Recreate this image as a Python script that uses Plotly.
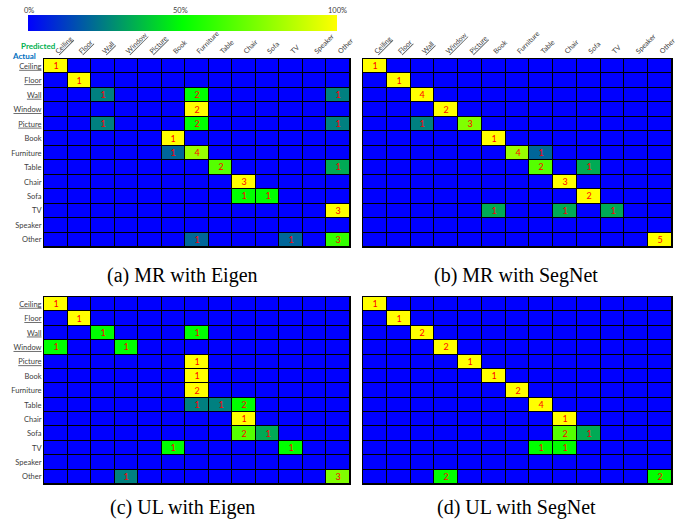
import plotly.graph_objects as go

W, H = 677, 520

classes = ["Ceiling", "Floor", "Wall", "Window", "Picture", "Book", "Furniture",
           "Table", "Chair", "Sofa", "TV", "Speaker", "Other"]
underlined = ["Ceiling", "Floor", "Wall", "Window", "Picture"]
tick_labels = [f"<u>{c}</u>" if c in underlined else c for c in classes]

# Confusion matrices: rows = actual, columns = predicted (counts)
mr_eigen = [
    [1, 0, 0, 0, 0, 0, 0, 0, 0, 0, 0, 0, 0],
    [0, 1, 0, 0, 0, 0, 0, 0, 0, 0, 0, 0, 0],
    [0, 0, 1, 0, 0, 0, 2, 0, 0, 0, 0, 0, 1],
    [0, 0, 0, 0, 0, 0, 2, 0, 0, 0, 0, 0, 0],
    [0, 0, 1, 0, 0, 0, 2, 0, 0, 0, 0, 0, 1],
    [0, 0, 0, 0, 0, 1, 0, 0, 0, 0, 0, 0, 0],
    [0, 0, 0, 0, 0, 1, 4, 0, 0, 0, 0, 0, 0],
    [0, 0, 0, 0, 0, 0, 0, 2, 0, 0, 0, 0, 1],
    [0, 0, 0, 0, 0, 0, 0, 0, 3, 0, 0, 0, 0],
    [0, 0, 0, 0, 0, 0, 0, 0, 1, 1, 0, 0, 0],
    [0, 0, 0, 0, 0, 0, 0, 0, 0, 0, 0, 0, 3],
    [0, 0, 0, 0, 0, 0, 0, 0, 0, 0, 0, 0, 0],
    [0, 0, 0, 0, 0, 0, 1, 0, 0, 0, 1, 0, 3],
]
mr_segnet = [
    [1, 0, 0, 0, 0, 0, 0, 0, 0, 0, 0, 0, 0],
    [0, 1, 0, 0, 0, 0, 0, 0, 0, 0, 0, 0, 0],
    [0, 0, 4, 0, 0, 0, 0, 0, 0, 0, 0, 0, 0],
    [0, 0, 0, 2, 0, 0, 0, 0, 0, 0, 0, 0, 0],
    [0, 0, 1, 0, 3, 0, 0, 0, 0, 0, 0, 0, 0],
    [0, 0, 0, 0, 0, 1, 0, 0, 0, 0, 0, 0, 0],
    [0, 0, 0, 0, 0, 0, 4, 1, 0, 0, 0, 0, 0],
    [0, 0, 0, 0, 0, 0, 0, 2, 0, 1, 0, 0, 0],
    [0, 0, 0, 0, 0, 0, 0, 0, 3, 0, 0, 0, 0],
    [0, 0, 0, 0, 0, 0, 0, 0, 0, 2, 0, 0, 0],
    [0, 0, 0, 0, 0, 1, 0, 0, 1, 0, 1, 0, 0],
    [0, 0, 0, 0, 0, 0, 0, 0, 0, 0, 0, 0, 0],
    [0, 0, 0, 0, 0, 0, 0, 0, 0, 0, 0, 0, 5],
]
ul_eigen = [
    [1, 0, 0, 0, 0, 0, 0, 0, 0, 0, 0, 0, 0],
    [0, 1, 0, 0, 0, 0, 0, 0, 0, 0, 0, 0, 0],
    [0, 0, 1, 0, 0, 0, 1, 0, 0, 0, 0, 0, 0],
    [1, 0, 0, 1, 0, 0, 0, 0, 0, 0, 0, 0, 0],
    [0, 0, 0, 0, 0, 0, 1, 0, 0, 0, 0, 0, 0],
    [0, 0, 0, 0, 0, 0, 1, 0, 0, 0, 0, 0, 0],
    [0, 0, 0, 0, 0, 0, 2, 0, 0, 0, 0, 0, 0],
    [0, 0, 0, 0, 0, 0, 1, 1, 2, 0, 0, 0, 0],
    [0, 0, 0, 0, 0, 0, 0, 0, 1, 0, 0, 0, 0],
    [0, 0, 0, 0, 0, 0, 0, 0, 2, 1, 0, 0, 0],
    [0, 0, 0, 0, 0, 1, 0, 0, 0, 0, 1, 0, 0],
    [0, 0, 0, 0, 0, 0, 0, 0, 0, 0, 0, 0, 0],
    [0, 0, 0, 1, 0, 0, 0, 0, 0, 0, 0, 0, 3],
]
ul_segnet = [
    [1, 0, 0, 0, 0, 0, 0, 0, 0, 0, 0, 0, 0],
    [0, 1, 0, 0, 0, 0, 0, 0, 0, 0, 0, 0, 0],
    [0, 0, 2, 0, 0, 0, 0, 0, 0, 0, 0, 0, 0],
    [0, 0, 0, 2, 0, 0, 0, 0, 0, 0, 0, 0, 0],
    [0, 0, 0, 0, 1, 0, 0, 0, 0, 0, 0, 0, 0],
    [0, 0, 0, 0, 0, 1, 0, 0, 0, 0, 0, 0, 0],
    [0, 0, 0, 0, 0, 0, 2, 0, 0, 0, 0, 0, 0],
    [0, 0, 0, 0, 0, 0, 0, 4, 0, 0, 0, 0, 0],
    [0, 0, 0, 0, 0, 0, 0, 0, 1, 0, 0, 0, 0],
    [0, 0, 0, 0, 0, 0, 0, 0, 2, 1, 0, 0, 0],
    [0, 0, 0, 0, 0, 0, 0, 1, 1, 0, 0, 0, 0],
    [0, 0, 0, 0, 0, 0, 0, 0, 0, 0, 0, 0, 0],
    [0, 0, 0, 2, 0, 0, 0, 0, 0, 0, 0, 0, 2],
]

captions = ["(a) MR with Eigen", "(b) MR with SegNet",
            "(c) UL with Eigen", "(d) UL with SegNet"]
matrices = [mr_eigen, mr_segnet, ul_eigen, ul_segnet]

colorscale = [[0.0, "#0000FF"], [0.5, "#00FF00"], [1.0, "#FFFF00"]]


def px_x(p):
    return p / W


def px_y(p):
    return 1 - p / H


# panel pixel boxes: (left, right, top, bottom)
boxes = [(44, 350, 59, 247), (363, 672, 59, 247),
         (44, 350, 297, 484), (363, 672, 297, 484)]
caption_pos = [(182, 275), (516, 275), (182, 507), (516, 507)]

fig = go.Figure()
layout = {}
idx = list(range(len(classes)))
for k, (mat, box) in enumerate(zip(matrices, boxes)):
    pct = []
    txt = []
    for row in mat:
        s = sum(row)
        pct.append([(v / s * 100 if s else 0) for v in row])
        txt.append([str(v) if v else "" for v in row])
    ax = "" if k == 0 else str(k + 1)
    tr = go.Heatmap(
        z=pct, x=idx, y=idx, text=txt, texttemplate="%{text}",
        textfont=dict(color="#FF0000", size=9, family="Lato"),
        colorscale=colorscale, zmin=0, zmax=100, xgap=1, ygap=1,
        xaxis="x" + ax, yaxis="y" + ax, hoverinfo="skip",
        showscale=(k == 0),
    )
    if k == 0:
        tr.colorbar = dict(orientation="h", x=px_x(28), xanchor="left",
                           y=px_y(15), yanchor="top", len=309 / W,
                           lenmode="fraction", thickness=16,
                           thicknessmode="pixels", xpad=0, ypad=0,
                           outlinewidth=0, showticklabels=False, ticks="")
    fig.add_trace(tr)
    l, r, t, b = box
    layout["xaxis" + ax] = dict(
        domain=[px_x(l), px_x(r)], anchor="y" + ax, range=[-0.5, 12.5],
        side="top", tickmode="array", tickvals=idx, ticktext=tick_labels,
        tickangle=-45, showticklabels=(k < 2), ticks="", showgrid=False,
        zeroline=False, showline=True, mirror=True, linecolor="black",
        linewidth=1, automargin=False,
        tickfont=dict(family="Lato", size=7, color="#404040"),
        fixedrange=True)
    layout["yaxis" + ax] = dict(
        domain=[px_y(b), px_y(t)], anchor="x" + ax, range=[12.5, -0.5],
        tickmode="array", tickvals=idx, ticktext=tick_labels,
        showticklabels=(k % 2 == 0), ticks="", showgrid=False,
        zeroline=False, showline=True, mirror=True, linecolor="black",
        linewidth=1, automargin=False,
        tickfont=dict(family="Lato", size=7.5, color="#404040"),
        fixedrange=True)

annotations = []
for cap, (cx, cy) in zip(captions, caption_pos):
    annotations.append(dict(text=cap, x=px_x(cx), y=px_y(cy), xref="paper",
                            yref="paper", showarrow=False, xanchor="center",
                            yanchor="middle",
                            font=dict(family="Liberation Serif", size=20,
                                      color="black")))
for lab, cx in [("0%", 29), ("50%", 180), ("100%", 337)]:
    annotations.append(dict(text=lab, x=px_x(cx), y=px_y(10), xref="paper",
                            yref="paper", showarrow=False, xanchor="center",
                            yanchor="middle",
                            font=dict(family="Lato", size=7.5, color="#404040")))
annotations.append(dict(text="<b>Predicted</b>", x=px_x(38), y=px_y(46),
                        xref="paper", yref="paper", showarrow=False,
                        xanchor="center", yanchor="middle",
                        font=dict(family="Lato", size=8, color="#00B050")))
annotations.append(dict(text="<b>Actual</b>", x=px_x(24), y=px_y(56),
                        xref="paper", yref="paper", showarrow=False,
                        xanchor="center", yanchor="middle",
                        font=dict(family="Lato", size=8, color="#0070C0")))

fig.update_layout(
    width=W, height=H, margin=dict(l=0, r=0, t=0, b=0),
    paper_bgcolor="white", plot_bgcolor="black",
    annotations=annotations, showlegend=False, **layout)

fig.write_html("out.html", config={"displayModeBar": False},
               post_script="document.body.style.margin='0';"
                           "document.body.style.overflow='hidden';")
